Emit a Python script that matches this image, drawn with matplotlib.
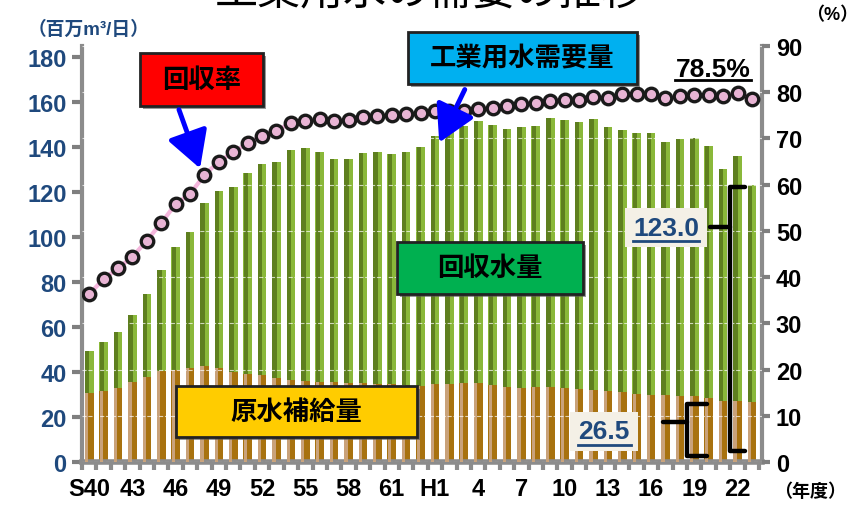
import numpy as np
import matplotlib
matplotlib.use("Agg")
import matplotlib.pyplot as plt
from matplotlib.patches import Rectangle

plt.rcParams['font.family'] = ['Liberation Sans', 'Noto Sans CJK JP', 'DejaVu Sans']

# 年度 S40..S63, H1..H23 (47 bars)
years = ['S40', '41', '42', '43', '44', '45', '46', '47', '48', '49', '50', '51',
         '52', '53', '54', '55', '56', '57', '58', '59', '60', '61', '62', '63',
         'H1', '2', '3', '4', '5', '6', '7', '8', '9', '10', '11', '12',
         '13', '14', '15', '16', '17', '18', '19', '20', '21', '22', '23']
label_years = ['S40', '43', '46', '49', '52', '55', '58', '61', 'H1',
               '4', '7', '10', '13', '16', '19', '22']

# 工業用水需要量 (百万m3/日)
total = [49.5, 53.2, 57.9, 65.3, 74.7, 85.5, 95.4, 102.4, 115.0, 120.6, 122.4, 128.3,
         132.4, 133.6, 138.7, 139.8, 138.0, 134.8, 134.7, 137.6, 138.0, 137.0, 138.0, 140.3,
         144.8, 148.0, 149.6, 151.7, 149.8, 148.3, 149.0, 149.5, 152.9, 152.0, 151.3, 152.7,
         149.0, 147.7, 146.2, 146.5, 142.1, 143.7, 144.3, 140.6, 130.5, 136.1, 123.0]
# 原水補給量
supply = [30.8, 31.5, 32.9, 35.5, 37.9, 40.6, 41.1, 41.8, 42.8, 41.8, 40.0, 39.2,
          38.7, 37.2, 36.5, 36.1, 35.7, 35.4, 35.2, 35.0, 34.8, 34.5, 34.2, 33.8,
          34.5, 34.7, 35.2, 35.3, 34.4, 33.5, 33.0, 33.2, 33.2, 32.7, 32.4, 32.0,
          31.7, 31.0, 30.2, 29.9, 29.8, 29.5, 29.5, 28.4, 27.3, 27.3, 26.5]
# 回収率 (%)
rate = [36.3, 39.6, 41.9, 44.4, 47.9, 51.7, 55.8, 58.0, 62.1, 65.0, 67.0, 69.0,
        70.5, 71.7, 73.3, 73.8, 74.1, 73.8, 73.9, 74.7, 74.8, 75.0, 75.2, 75.5,
        76.0, 76.0, 76.0, 76.4, 76.5, 77.1, 77.5, 77.7, 78.2, 78.3, 78.4, 78.9,
        78.7, 79.6, 79.6, 79.6, 78.7, 79.1, 79.3, 79.4, 79.1, 79.8, 78.5]

W, H = 857, 506
fig = plt.figure(figsize=(W / 100, H / 100), dpi=100)
ax = fig.add_axes([82 / W, 1 - 463 / H, 680 / W, 416 / H])

x = np.arange(len(years))
total = np.array(total)
supply = np.array(supply)
recovered = total - supply

# bars with a simple two-tone "cylinder" look
ax.bar(x, supply, width=0.6, color='#a8720f', zorder=2)
ax.bar(x - 0.17, supply, width=0.22, color='#c9a27a', zorder=3)
ax.bar(x, recovered, bottom=supply, width=0.6, color='#8ab83a', zorder=2)
ax.bar(x - 0.13, recovered, bottom=supply, width=0.3, color='#5e7f1f', zorder=3)

ax.set_xlim(-0.5, 46.7)
ax.set_ylim(0, 185)
ax.set_yticks(np.arange(0, 181, 20))
ax.tick_params(axis='y', colors='#7f7f7f', width=3, length=7, labelsize=17,
               labelcolor='#1f497d', pad=4)
for t in ax.get_yticklabels():
    t.set_fontweight('bold')

ax.set_xticks([years.index(y) for y in label_years])
ax.set_xticklabels(label_years, fontsize=17, fontweight='bold')
ax.set_xticks(np.arange(-0.5, 46.6, 1), minor=True)
ax.tick_params(axis='x', which='major', length=0, pad=11)
ax.tick_params(axis='x', which='minor', length=6, width=3, color='#8c8c8c')

for s in ['left', 'right']:
    ax.spines[s].set_color('#8c8c8c')
    ax.spines[s].set_linewidth(3)
ax.spines['bottom'].set_color('#8c8c8c')
ax.spines['bottom'].set_linewidth(4)
ax.spines['top'].set_visible(False)

ax2 = ax.twinx()
ax2.set_ylim(0, 90)
ax2.set_yticks(np.arange(0, 91, 10))
ax2.tick_params(axis='y', colors='#7f7f7f', width=3, length=6, labelsize=17,
                labelcolor='black', pad=4)
for t in ax2.get_yticklabels():
    t.set_fontweight('bold')
for s in ['left', 'right', 'top', 'bottom']:
    ax2.spines[s].set_visible(False)
ax2.set_axisbelow(True)
ax2.yaxis.grid(True, color='white', linestyle='--', linewidth=0.8, alpha=0.7)

ax2.plot(x, rate, color='#f4b6dc', linewidth=3, zorder=4)
ax2.plot(x, rate, linestyle='none', marker='o', markersize=9,
         markerfacecolor='#e8b4d4', markeredgecolor='#1a1a1a', markeredgewidth=2.4,
         zorder=5)


def fp(px, py):
    return px / W, 1 - py / H


def box(x0, y0, x1, y1, color, text):
    # shadow
    fig.patches.append(Rectangle(fp(x0 + 3, y1 + 3), (x1 - x0) / W, (y1 - y0) / H,
                                 transform=fig.transFigure, facecolor='#555555',
                                 edgecolor='none', alpha=0.6, zorder=10))
    fig.patches.append(Rectangle(fp(x0, y1), (x1 - x0) / W, (y1 - y0) / H,
                                 transform=fig.transFigure, facecolor=color,
                                 edgecolor='#222222', linewidth=2, zorder=11))
    cx, cy = fp((x0 + x1) / 2, (y0 + y1) / 2)
    fig.text(cx, cy, text, ha='center', va='center', fontsize=19,
             fontweight='bold', color='black', zorder=12)


def arrow(x0, y0, x1, y1):
    fig.add_artist(matplotlib.patches.FancyArrowPatch(
        fp(x0, y0), fp(x1, y1), transform=fig.transFigure,
        arrowstyle='-|>,head_length=1.6,head_width=0.9', mutation_scale=14,
        color='#0000ff', linewidth=3.5, zorder=13))


def underline(x0, x1, y, color):
    fig.add_artist(plt.Line2D([x0 / W, x1 / W], [1 - y / H] * 2, color=color,
                              lw=2, zorder=9.5))


box(140, 54, 263, 107, '#ff0000', '回収率')
arrow(178, 108, 201, 172)
box(408, 33, 637, 85, '#00b0f0', '工業用水需要量')
arrow(466, 88, 438, 146)
box(397, 243, 583, 295, '#00b050', '回収水量')
box(176, 387, 417, 438, '#ffcc00', '原水補給量')

# title (cut off at the top edge, as in the source slide)
fig.text(*fp(430, -6), '工業用水の需要の推移', ha='center', va='center',
         fontsize=31, color='black')
fig.text(*fp(28, 30), '（百万m³/日）', ha='left', va='center', fontsize=13.5,
         fontweight='bold', color='#1f497d')
fig.text(*fp(858, 16), '（%）', ha='right', va='center', fontsize=13,
         fontweight='bold', color='black')
fig.text(*fp(774, 492), '（年度）', ha='left', va='center', fontsize=13,
         fontweight='bold', color='black')

# value labels with underline
fig.text(*fp(713, 70), '78.5%', ha='center', va='center', fontsize=19,
         fontweight='bold', color='black')
underline(675, 751, 81, 'black')

fig.patches.append(Rectangle(fp(625, 248), 82 / W, 39 / H, transform=fig.transFigure,
                             facecolor='#f4f0e6', edgecolor='none', zorder=8))
fig.text(*fp(666, 229), '123.0', ha='center', va='center', fontsize=19,
         fontweight='bold', color='#1f497d', zorder=9)
underline(633, 699, 242, '#1f497d')

fig.patches.append(Rectangle(fp(570, 452), 68 / W, 39 / H, transform=fig.transFigure,
                             facecolor='#f4f0e6', edgecolor='none', zorder=8))
fig.text(*fp(604, 432), '26.5', ha='center', va='center', fontsize=19,
         fontweight='bold', color='#1f497d', zorder=9)
underline(578, 631, 446, '#1f497d')


# brackets
def bline(xs, ys):
    fig.add_artist(plt.Line2D([v / W for v in xs], [1 - v / H for v in ys],
                              color='black', lw=3.2, solid_capstyle='round',
                              solid_joinstyle='round', zorder=9))


bline([745, 730, 730, 745], [188, 188, 452, 452])
bline([710, 730], [228, 228])
bline([707, 687, 687, 707], [405, 405, 457, 457])
bline([663, 687], [423, 423])

fig.savefig('out.png', dpi=100)
